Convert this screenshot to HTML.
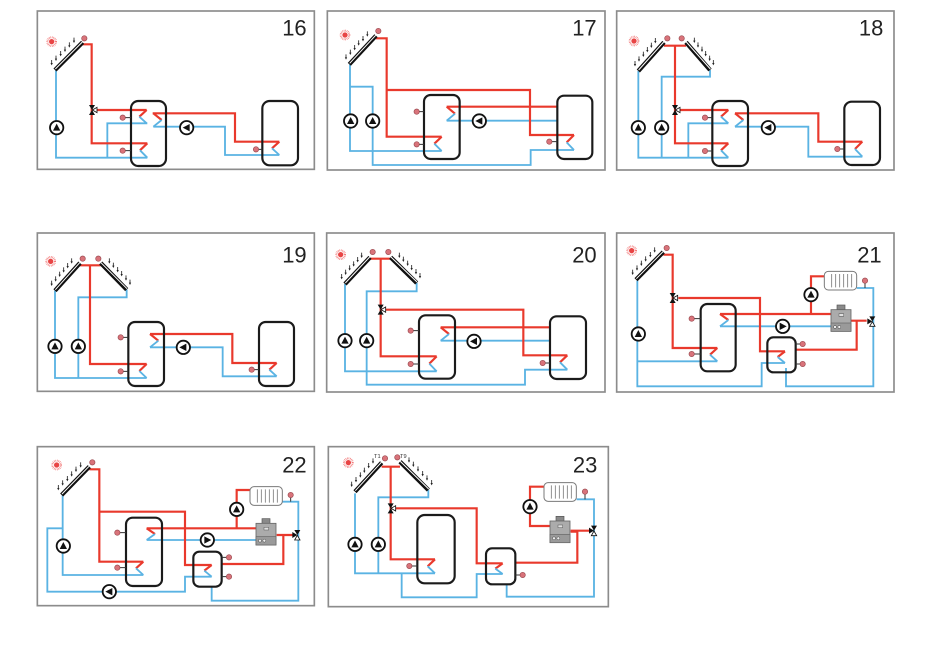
<!DOCTYPE html>
<html>
<head>
<meta charset="utf-8">
<style>
html,body{margin:0;padding:0;background:#fff;}
svg{display:block;}
.bd{fill:#fff;stroke:#8c8c8c;stroke-width:5;}
.r{fill:none;stroke:#e9392c;stroke-width:6.5;}
.b{fill:none;stroke:#5ab3e3;stroke-width:5.5;}
.tk{fill:none;stroke:#1b1b1b;stroke-width:6.5;}
.sl{stroke:#333;stroke-width:3;}
.c1{stroke:#111;stroke-width:13;fill:none;}
.c2{stroke:#fff;stroke-width:3;fill:none;}
.num{font-family:"Liberation Sans",Arial,sans-serif;font-size:66px;fill:#222;text-anchor:end;}
.tl{font-family:"Liberation Sans",Arial,sans-serif;font-size:17px;fill:#333;}
</style>
</head>
<body>
<svg width="928" height="648" viewBox="0 0 928 648" xmlns="http://www.w3.org/2000/svg">
<defs>
<g id="pu"><circle r="20" fill="#fff" stroke="#111" stroke-width="5.5"/><path d="M-11,9 L11,9 L0,-12Z" fill="#111"/></g>
<g id="se"><circle r="8" fill="#d9737a" stroke="#9a4a50" stroke-width="2"/></g>
<g id="vl"><path d="M-9,-15 L9,-15 L0,0Z M-9,15 L9,15 L0,0Z" fill="#111"/><path d="M1,0 L15,-8 L15,8Z" fill="#fff" stroke="#111" stroke-width="2.5"/></g>
<g id="vr"><path d="M-15,-9 L-15,9 L0,0Z M-9,-15 L9,-15 L0,0Z" fill="#111"/><path d="M0,1 L-8,15 L8,15Z" fill="#fff" stroke="#111" stroke-width="2.5"/></g>
<g id="sun"><circle r="13" fill="none" stroke="#f27a7a" stroke-width="6" stroke-dasharray="2 2.4"/><circle r="8" fill="#e84545"/></g>
<g id="ry"><path d="M0,-8 V2" stroke="#222" stroke-width="2.5"/><path d="M-3.5,1 L3.5,1 L0,8Z" fill="#222"/></g>
<g id="rad"><rect x="0" y="0" width="97" height="56" rx="12" fill="#fff" stroke="#7a7a7a" stroke-width="3"/><path d="M22,8 V48 M34,8 V48 M46,8 V48 M58,8 V48 M70,8 V48 M82,8 V48" stroke="#7a7a7a" stroke-width="2.5"/></g>
<g id="boi"><rect x="18" y="-14" width="24" height="14" fill="#8a8a8a" stroke="#555" stroke-width="2"/><rect x="0" y="0" width="60" height="65" fill="#ababab" stroke="#666" stroke-width="2.5"/><rect x="0" y="40" width="60" height="25" fill="#9a9a9a" stroke="#666" stroke-width="2"/><rect x="24" y="12" width="14" height="8" fill="#e0e0e0" stroke="#555" stroke-width="1.5"/><circle cx="12" cy="52" r="4.5" fill="#eee" stroke="#444" stroke-width="1.5"/><circle cx="25" cy="52" r="4.5" fill="#eee" stroke="#444" stroke-width="1.5"/></g>
</defs>

<!-- ===== Panel 16 ===== -->
<g transform="translate(30,5) scale(0.33333)">
<rect class="bd" x="22" y="18" width="831" height="475"/>
<text x="830" y="92" class="num">16</text>
<path class="b" d="M78,195 V458 H352"/>
<path class="b" d="M352,355 H232 V458"/>
<path class="b" d="M370,365 H585 V450 H748"/>
<path class="r" d="M158,118 H185 V415 H352"/>
<path class="r" d="M200,315 H350"/>
<path class="r" d="M368,325 H615 V410 H748"/>
<path class="r" d="M350,315 L328,335"/><path class="b" d="M328,335 L350,355"/>
<path class="r" d="M352,415 L330,436"/><path class="b" d="M330,436 L352,458"/>
<path class="r" d="M370,325 L395,345"/><path class="b" d="M395,345 L370,365"/>
<path class="r" d="M748,410 L726,430"/><path class="b" d="M726,430 L748,450"/>
<rect class="tk" x="303" y="288" width="105" height="195" rx="22"/>
<rect class="tk" x="697" y="288" width="107" height="193" rx="22"/>
<path class="sl" d="M285,338 H303 M285,437 H303 M685,433 H697"/>
<use href="#se" x="278" y="338"/><use href="#se" x="278" y="437"/><use href="#se" x="678" y="433"/>
<use href="#pu" x="80" y="368"/>
<use href="#pu" transform="translate(470,368) rotate(-90)"/>
<use href="#vl" x="186" y="315"/>
<path class="c1" d="M75,195 L158,112"/><path class="c2" d="M76,192 L157,111"/>
<use href="#se" x="163" y="100"/>
<use href="#sun" x="65" y="110"/>
<use href="#ry" x="65" y="173"/><use href="#ry" x="78" y="160"/><use href="#ry" x="92" y="146"/><use href="#ry" x="105" y="133"/><use href="#ry" x="118" y="120"/><use href="#ry" x="132" y="106"/>
</g>

<!-- ===== Panel 17 ===== -->
<g transform="translate(320,5) scale(0.33333)">
<rect class="bd" x="22" y="18" width="833" height="477"/>
<text x="830" y="92" class="num">17</text>
<path class="b" d="M90,178 V438 H365"/>
<path class="b" d="M90,245 H158 V480 H632 V435 H762"/>
<path class="b" d="M380,347 H712"/>
<path class="r" d="M168,100 H200 V395 H365"/>
<path class="r" d="M200,255 H630 V390 H762"/>
<path class="r" d="M380,305 H712"/>
<path class="r" d="M365,395 L343,416"/><path class="b" d="M343,416 L365,438"/>
<path class="r" d="M380,305 L405,326"/><path class="b" d="M405,326 L380,347"/>
<path class="r" d="M762,390 L740,412"/><path class="b" d="M740,412 L762,435"/>
<rect class="tk" x="312" y="270" width="107" height="192" rx="20"/>
<rect class="tk" x="712" y="272" width="105" height="190" rx="20"/>
<path class="sl" d="M297,320 H312 M297,418 H312 M695,410 H712"/>
<use href="#se" x="290" y="320"/><use href="#se" x="290" y="418"/><use href="#se" x="688" y="410"/>
<use href="#pu" x="92" y="348"/><use href="#pu" x="158" y="348"/>
<use href="#pu" transform="translate(478,348) rotate(-90)"/>
<path class="c1" d="M88,178 L168,92"/><path class="c2" d="M89,175 L167,91"/>
<use href="#se" x="175" y="78"/>
<use href="#sun" x="75" y="90"/>
<use href="#ry" x="78" y="156"/><use href="#ry" x="91" y="142"/><use href="#ry" x="104" y="128"/><use href="#ry" x="116" y="114"/><use href="#ry" x="129" y="101"/><use href="#ry" x="142" y="87"/>
</g>

<!-- ===== Panel 18 ===== -->
<g transform="translate(610,5) scale(0.33333)">
<rect class="bd" x="20" y="18" width="832" height="477"/>
<text x="820" y="92" class="num">18</text>
<path class="b" d="M85,198 V458 H355"/>
<path class="b" d="M300,195 V215 H155 V458"/>
<path class="b" d="M355,355 H235 V458"/>
<path class="b" d="M375,365 H595 V455 H757"/>
<path class="r" d="M162,122 H228"/>
<path class="r" d="M195,122 V415 H355"/>
<path class="r" d="M210,315 H355"/>
<path class="r" d="M375,325 H625 V410 H757"/>
<path class="r" d="M355,315 L333,335"/><path class="b" d="M333,335 L355,355"/>
<path class="r" d="M355,415 L333,436"/><path class="b" d="M333,436 L355,458"/>
<path class="r" d="M375,325 L400,345"/><path class="b" d="M400,345 L375,365"/>
<path class="r" d="M757,410 L735,432"/><path class="b" d="M735,432 L757,455"/>
<rect class="tk" x="307" y="288" width="107" height="195" rx="22"/>
<rect class="tk" x="703" y="290" width="107" height="190" rx="22"/>
<path class="sl" d="M292,338 H307 M292,438 H307 M689,432 H703"/>
<use href="#se" x="285" y="338"/><use href="#se" x="285" y="438"/><use href="#se" x="682" y="432"/>
<use href="#pu" x="85" y="368"/><use href="#pu" x="155" y="368"/>
<use href="#pu" transform="translate(475,368) rotate(-90)"/>
<use href="#vl" x="195" y="315"/>
<path class="c1" d="M85,198 L162,112"/><path class="c2" d="M86,195 L161,111"/>
<path class="c1" d="M228,112 L300,195"/><path class="c2" d="M229,111 L301,192"/>
<use href="#se" x="172" y="100"/><use href="#se" x="215" y="100"/>
<use href="#sun" x="72" y="108"/>
<use href="#ry" x="75" y="176"/><use href="#ry" x="87" y="162"/><use href="#ry" x="100" y="148"/><use href="#ry" x="112" y="134"/><use href="#ry" x="124" y="121"/><use href="#ry" x="136" y="107"/>
<use href="#ry" x="253" y="106"/><use href="#ry" x="264" y="120"/><use href="#ry" x="276" y="133"/><use href="#ry" x="287" y="146"/><use href="#ry" x="299" y="160"/><use href="#ry" x="310" y="173"/>
</g>

<!-- ===== Panel 19 ===== -->
<g transform="translate(30,228) scale(0.33333)">
<rect class="bd" x="22" y="15" width="831" height="475"/>
<text x="830" y="103" class="num">19</text>
<path class="b" d="M75,188 V450 H350"/>
<path class="b" d="M290,185 V208 H145 V450"/>
<path class="b" d="M360,358 H578 V445 H740"/>
<path class="r" d="M150,112 H212"/>
<path class="r" d="M180,112 V408 H350"/>
<path class="r" d="M360,318 H607 V405 H740"/>
<path class="r" d="M350,408 L328,429"/><path class="b" d="M328,429 L350,450"/>
<path class="r" d="M360,318 L385,338"/><path class="b" d="M385,338 L360,358"/>
<path class="r" d="M740,405 L718,425"/><path class="b" d="M718,425 L740,445"/>
<rect class="tk" x="295" y="282" width="107" height="192" rx="20"/>
<rect class="tk" x="687" y="282" width="105" height="192" rx="20"/>
<path class="sl" d="M279,328 H295 M279,430 H295 M672,425 H687"/>
<use href="#se" x="272" y="328"/><use href="#se" x="272" y="430"/><use href="#se" x="665" y="425"/>
<use href="#pu" x="75" y="355"/><use href="#pu" x="145" y="355"/>
<use href="#pu" transform="translate(460,358) rotate(-90)"/>
<path class="c1" d="M75,188 L150,105"/><path class="c2" d="M76,185 L149,104"/>
<path class="c1" d="M212,105 L290,185"/><path class="c2" d="M213,104 L291,182"/>
<use href="#se" x="158" y="92"/><use href="#se" x="205" y="92"/>
<use href="#sun" x="62" y="100"/>
<use href="#ry" x="65" y="166"/><use href="#ry" x="77" y="153"/><use href="#ry" x="89" y="139"/><use href="#ry" x="101" y="126"/><use href="#ry" x="113" y="113"/><use href="#ry" x="125" y="99"/>
<use href="#ry" x="238" y="99"/><use href="#ry" x="250" y="112"/><use href="#ry" x="263" y="125"/><use href="#ry" x="275" y="137"/><use href="#ry" x="288" y="150"/><use href="#ry" x="300" y="163"/>
</g>

<!-- ===== Panel 20 ===== -->
<g transform="translate(320,228) scale(0.33333)">
<rect class="bd" x="20" y="15" width="835" height="477"/>
<text x="830" y="103" class="num">20</text>
<path class="b" d="M75,168 V430 H350"/>
<path class="b" d="M290,165 V190 H140 V470 H615 V425 H742"/>
<path class="b" d="M362,338 H690"/>
<path class="r" d="M150,92 H212"/>
<path class="r" d="M182,92 V385 H350"/>
<path class="r" d="M198,245 H610 V382 H742"/>
<path class="r" d="M362,298 H690"/>
<path class="r" d="M350,385 L328,407"/><path class="b" d="M328,407 L350,430"/>
<path class="r" d="M362,298 L387,318"/><path class="b" d="M387,318 L362,338"/>
<path class="r" d="M742,382 L720,403"/><path class="b" d="M720,403 L742,425"/>
<rect class="tk" x="297" y="262" width="108" height="190" rx="20"/>
<rect class="tk" x="690" y="265" width="108" height="188" rx="20"/>
<path class="sl" d="M279,308 H297 M279,408 H297 M675,405 H690"/>
<use href="#se" x="272" y="308"/><use href="#se" x="272" y="408"/><use href="#se" x="668" y="405"/>
<use href="#pu" x="75" y="338"/><use href="#pu" x="140" y="338"/>
<use href="#pu" transform="translate(462,340) rotate(-90)"/>
<use href="#vl" x="182" y="245"/>
<path class="c1" d="M75,168 L150,88"/><path class="c2" d="M76,165 L149,87"/>
<path class="c1" d="M212,88 L290,165"/><path class="c2" d="M213,87 L291,162"/>
<use href="#se" x="158" y="72"/><use href="#se" x="205" y="72"/>
<use href="#sun" x="62" y="80"/>
<use href="#ry" x="65" y="146"/><use href="#ry" x="77" y="133"/><use href="#ry" x="89" y="120"/><use href="#ry" x="101" y="108"/><use href="#ry" x="113" y="95"/><use href="#ry" x="125" y="82"/>
<use href="#ry" x="238" y="82"/><use href="#ry" x="250" y="94"/><use href="#ry" x="263" y="106"/><use href="#ry" x="275" y="119"/><use href="#ry" x="288" y="131"/><use href="#ry" x="300" y="143"/>
</g>

<!-- ===== Panel 21 ===== -->
<g transform="translate(610,228) scale(0.33333)">
<rect class="bd" x="20" y="15" width="832" height="477"/>
<text x="815" y="103" class="num">21</text>
<path class="b" d="M82,158 V475 H455 V405 H525"/>
<path class="b" d="M82,400 H322"/>
<path class="b" d="M528,420 V475 H790 V180 H740"/>
<path class="b" d="M330,295 H665"/>
<path class="r" d="M160,80 H188 V360 H322"/>
<path class="r" d="M205,210 H450 V370 H525"/>
<path class="r" d="M330,258 H665"/>
<path class="r" d="M603,258 V145 H645"/>
<path class="r" d="M720,278 H770"/>
<path class="r" d="M740,278 V365 H557"/>
<path class="r" d="M322,360 L300,380"/><path class="b" d="M300,380 L322,400"/>
<path class="r" d="M330,258 L355,276"/><path class="b" d="M355,276 L330,295"/>
<path class="r" d="M525,370 L503,387"/><path class="b" d="M503,387 L525,405"/>
<rect class="tk" x="272" y="228" width="105" height="202" rx="20"/>
<rect class="tk" x="472" y="328" width="85" height="105" rx="18"/>
<path class="sl" d="M252,272 H272 M252,378 H272 M557,348 H571 M557,408 H571 M765,165 V180"/>
<use href="#se" x="245" y="272"/><use href="#se" x="245" y="378"/><use href="#se" x="578" y="348"/><use href="#se" x="578" y="408"/><use href="#se" x="765" y="158"/>
<use href="#rad" x="643" y="130"/>
<use href="#boi" x="663" y="245"/>
<use href="#pu" x="85" y="318"/>
<use href="#pu" x="603" y="200"/>
<use href="#pu" transform="translate(518,295) rotate(90)"/>
<use href="#vl" x="188" y="210"/>
<use href="#vr" x="787" y="280"/>
<path class="c1" d="M78,155 L160,72"/><path class="c2" d="M79,152 L159,71"/>
<use href="#se" x="170" y="60"/>
<use href="#sun" x="65" y="68"/>
<use href="#ry" x="68" y="133"/><use href="#ry" x="81" y="120"/><use href="#ry" x="94" y="106"/><use href="#ry" x="107" y="93"/><use href="#ry" x="121" y="80"/><use href="#ry" x="134" y="66"/>
</g>

<!-- ===== Panel 22 ===== -->
<g transform="translate(30,440) scale(0.33333)">
<rect class="bd" x="22" y="20" width="831" height="477"/>
<text x="830" y="97" class="num">22</text>
<path class="b" d="M98,165 V405 H340"/>
<path class="b" d="M98,265 H52 V455 H465 V410 H545"/>
<path class="b" d="M350,300 H680"/>
<path class="b" d="M757,185 H805 V482 H545 V440"/>
<path class="r" d="M178,88 H208 V365 H340"/>
<path class="r" d="M208,215 H465 V375 H545"/>
<path class="r" d="M350,265 H680"/>
<path class="r" d="M620,265 V150 H660"/>
<path class="r" d="M740,285 H790"/>
<path class="r" d="M760,285 V372 H575"/>
<path class="r" d="M340,365 L318,385"/><path class="b" d="M318,385 L340,405"/>
<path class="r" d="M350,265 L375,282"/><path class="b" d="M375,282 L350,300"/>
<path class="r" d="M545,375 L523,392"/><path class="b" d="M523,392 L545,410"/>
<rect class="tk" x="288" y="233" width="108" height="205" rx="20"/>
<rect class="tk" x="490" y="335" width="85" height="105" rx="18"/>
<path class="sl" d="M269,278 H288 M269,383 H288 M575,352 H590 M575,410 H590 M782,172 V185"/>
<use href="#se" x="262" y="278"/><use href="#se" x="262" y="383"/><use href="#se" x="597" y="352"/><use href="#se" x="597" y="410"/><use href="#se" x="782" y="165"/>
<use href="#rad" x="660" y="140"/>
<use href="#boi" x="678" y="250"/>
<use href="#pu" x="100" y="318"/>
<use href="#pu" x="620" y="208"/>
<use href="#pu" transform="translate(238,455) rotate(-90)"/>
<use href="#pu" transform="translate(532,300) rotate(90)"/>
<use href="#vr" x="802" y="285"/>
<path class="c1" d="M95,165 L178,80"/><path class="c2" d="M96,162 L177,79"/>
<use href="#se" x="187" y="67"/>
<use href="#sun" x="80" y="75"/>
<use href="#ry" x="85" y="143"/><use href="#ry" x="98" y="129"/><use href="#ry" x="112" y="116"/><use href="#ry" x="125" y="102"/><use href="#ry" x="138" y="88"/><use href="#ry" x="152" y="75"/>
</g>

<!-- ===== Panel 23 ===== -->
<g transform="translate(320,440) scale(0.33333)">
<rect class="bd" x="25" y="20" width="840" height="480"/>
<text x="832" y="97" class="num">23</text>
<path class="b" d="M105,160 V400 H345"/>
<path class="b" d="M325,150 V172 H175 V400"/>
<path class="b" d="M245,400 V472 H470 V402 H548"/>
<path class="b" d="M770,178 H822 V470 H560 V432"/>
<path class="r" d="M185,80 H240"/>
<path class="r" d="M212,80 V358 H345"/>
<path class="r" d="M228,205 H470 V370 H548"/>
<path class="r" d="M588,368 H772 V275 H752"/>
<path class="r" d="M672,140 H630 V258 H690"/>
<path class="r" d="M752,272 H808"/>
<path class="r" d="M345,358 L323,379"/><path class="b" d="M323,379 L345,400"/>
<path class="r" d="M548,370 L526,386"/><path class="b" d="M526,386 L548,402"/>
<rect class="tk" x="292" y="225" width="112" height="205" rx="22"/>
<rect class="tk" x="498" y="325" width="88" height="108" rx="18"/>
<path class="sl" d="M275,378 H292 M586,405 H601 M795,162 V178"/>
<use href="#se" x="268" y="378"/><use href="#se" x="608" y="405"/><use href="#se" x="795" y="155"/>
<use href="#rad" x="672" y="128"/>
<use href="#boi" x="690" y="243"/>
<use href="#pu" x="105" y="313"/><use href="#pu" x="175" y="313"/>
<use href="#pu" x="630" y="200"/>
<use href="#vl" x="212" y="205"/>
<use href="#vr" x="822" y="272"/>
<path class="c1" d="M105,155 L185,68"/><path class="c2" d="M106,152 L184,67"/>
<path class="c1" d="M240,65 L325,150"/><path class="c2" d="M241,64 L326,147"/>
<use href="#se" x="195" y="55"/><use href="#se" x="232" y="52"/>
<text x="162" y="54" class="tl">T1</text>
<text x="240" y="54" class="tl">T9</text>
<use href="#sun" x="85" y="68"/>
<use href="#ry" x="95" y="133"/><use href="#ry" x="108" y="119"/><use href="#ry" x="121" y="105"/><use href="#ry" x="133" y="91"/><use href="#ry" x="146" y="77"/><use href="#ry" x="159" y="63"/>
<use href="#ry" x="267" y="60"/><use href="#ry" x="280" y="73"/><use href="#ry" x="294" y="87"/><use href="#ry" x="308" y="101"/><use href="#ry" x="321" y="114"/><use href="#ry" x="335" y="128"/>
</g>
</svg>
</body>
</html>
